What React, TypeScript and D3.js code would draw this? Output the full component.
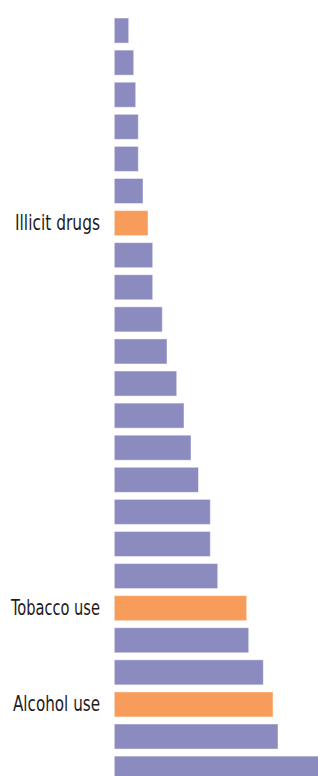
import React, { useRef, useEffect } from "react";
import * as d3 from "d3";

// categories top to bottom; only the highlighted ones carry a label
const categories = [
    "Risk 1", "Risk 2", "Risk 3", "Risk 4", "Risk 5", "Risk 6",
    "Illicit drugs", "Risk 8", "Risk 9", "Risk 10", "Risk 11", "Risk 12",
    "Risk 13", "Risk 14", "Risk 15", "Risk 16", "Risk 17", "Risk 18",
    "Tobacco use", "Risk 20", "Risk 21", "Alcohol use", "Risk 23", "Risk 24",
];
const values = [
    14.4, 19.4, 21.4, 24, 24, 28.7,
    33.7, 38.4, 38.4, 48, 52.7, 62.4,
    69.7, 76.7, 84.2, 96, 96, 103.4,
    132.4, 134.4, 149, 158.7, 163.7, 240,
];
const highlighted = ["Illicit drugs", "Tobacco use", "Alcohol use"];

const width = 318;
const height = 776;

// rendered label widths (condensed face is not installed, so squeeze to fit)
const labelWidth: Record<string, number> = {
    "Illicit drugs": 85,
    "Tobacco use": 89,
    "Alcohol use": 87,
};

export const App = () => {
    const svgRef = useRef<SVGSVGElement>(null);

    useEffect(() => {
        if (!svgRef.current) return;
        const svg = d3.select(svgRef.current);
        svg.selectAll("*").remove();

        const left = 114.3;

        const y = d3
            .scaleBand()
            .domain(categories)
            .range([14.5, 14.5 + 32.09 * categories.length])
            .paddingInner(0.22)
            .paddingOuter(0.11);

        const x = d3.scaleLinear().domain([0, 250]).range([left, left + 250]);

        const data = categories.map((c, i) => ({ name: c, value: values[i] }));

        svg.append("g")
            .selectAll("rect")
            .data(data)
            .enter()
            .append("rect")
            .attr("x", x(0))
            .attr("y", (d) => y(d.name) || 0)
            .attr("width", (d) => x(d.value) - x(0))
            .attr("height", y.bandwidth())
            .attr("fill", (d) =>
                highlighted.includes(d.name) ? "#f79c5a" : "#8b8bbf"
            )
            .attr("stroke", "rgba(255,255,255,0.45)")
            .attr("stroke-width", 1);

        svg.append("g")
            .selectAll("text")
            .data(data.filter((d) => highlighted.includes(d.name)))
            .enter()
            .append("text")
            .attr("x", 100)
            .attr("y", (d) => (y(d.name) || 0) + y.bandwidth() / 2 + 7)
            .attr("text-anchor", "end")
            .attr("font-family", "'DejaVu Sans Condensed', 'Liberation Sans Narrow', sans-serif")
            .attr("font-stretch", "condensed")
            .attr("font-size", 21)
            .attr("textLength", (d) => labelWidth[d.name])
            .attr("lengthAdjust", "spacingAndGlyphs")
            .attr("fill", "#1f1b1c")
            .text((d) => d.name);
    }, []);

    return (
        <svg
            ref={svgRef}
            width={width}
            height={height}
            style={{ position: "absolute", left: 0, top: 0, display: "block" }}
        />
    );
};

export default App;
